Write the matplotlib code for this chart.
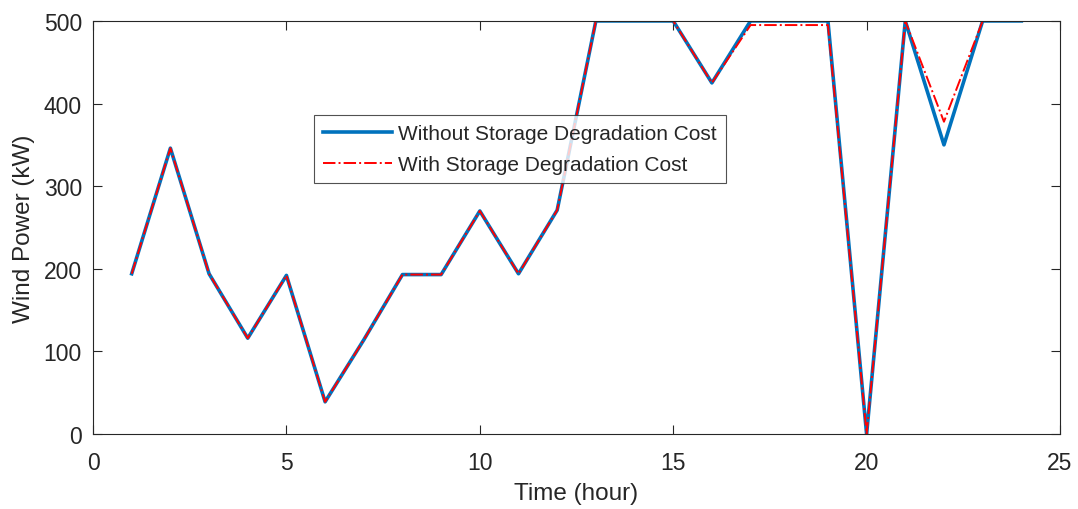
import matplotlib
matplotlib.use("Agg")
import matplotlib.pyplot as plt

# hourly wind power (kW)
hours = list(range(1, 25))
without_deg = [194, 346, 194, 116, 192, 39, 114, 193, 193, 270, 194, 271,
               500, 500, 500, 425, 500, 500, 500, 0, 500, 350, 500, 500]
with_deg = [194, 346, 194, 116, 192, 39, 114, 193, 193, 270, 194, 271,
            500, 500, 500, 425, 495, 495, 495, 0, 500, 378, 500, 500]

plt.rcParams['font.family'] = ['Liberation Sans', 'DejaVu Sans']

fig = plt.figure(figsize=(10.78, 5.10), dpi=100)
ax = fig.add_axes([0.0863, 0.147, 0.897, 0.81])

ax.plot(hours, without_deg, color='#0072BD', linewidth=2.6,
        label='Without Storage Degradation Cost')
ax.plot(hours, with_deg, color='red', linestyle='-.', linewidth=1.4,
        label='With Storage Degradation Cost')

ax.set_xlim(0, 25)
ax.set_ylim(0, 500)
ax.set_xticks([0, 5, 10, 15, 20, 25])
ax.set_yticks([0, 100, 200, 300, 400, 500])
ax.tick_params(direction='in', top=True, right=True, labelsize=16.5,
               colors='#262626', length=6.5)
ax.tick_params(axis='x', pad=12)
ax.tick_params(axis='y', pad=8)
for s in ax.spines.values():
    s.set_color('#262626')
    s.set_linewidth(0.8)
ax.set_xlabel('Time (hour)', fontsize=17.5, color='#262626', labelpad=6)
ax.set_ylabel('Wind Power (kW)', fontsize=17.5, color='#262626', labelpad=6.5)

leg = ax.legend(loc='upper left', bbox_to_anchor=(0.2285, 0.772), fontsize=15,
                frameon=True, fancybox=False, edgecolor='#262626',
                handlelength=3.3, handletextpad=0.3, borderpad=0.43,
                labelspacing=0.57, borderaxespad=0)
leg.get_frame().set_linewidth(0.8)
for t in leg.get_texts():
    t.set_color('#262626')

fig.savefig('out.png', dpi=100)
